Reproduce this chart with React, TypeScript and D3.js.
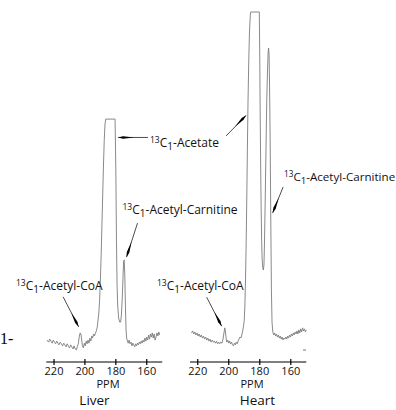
import React from "react";
import * as d3 from "d3";

// chemical shift ticks (ppm) shared by both spectra
const ppmTicks = [220, 200, 180, 160];

// [ppm, intensity (a.u.)]; the acetate peak is clipped flat
const liverSpectrum: [number, number][] = [
  [224.5, 3.5], [223.5, 2.9], [222.8, 3.8], [222, 3.2], [221.2, 2.6], [220.5, 3.5],
  [219.7, 2.9], [219, 2.4], [218.2, 3.2], [217.5, 2.6], [216.8, 2.1], [216, 2.9],
  [215.2, 2.4], [214.5, 1.8], [213.7, 2.6], [213, 2.1], [212.2, 1.5], [211.5, 2.4],
  [210.7, 1.8], [210, 1.2], [209.2, 2.1], [208.5, 1.5], [207.7, 0.9], [207, 1.8],
  [206.3, 0.9], [205.5, 0.6], [205, 1.5], [204.3, 2.4], [203.6, 4.7], [203.1, 5.6],
  [202.6, 5.3], [202.1, 3.5], [201.6, 1.8], [201, 1.2], [200.4, 2.6], [199.8, 1.8],
  [199.2, 3.2], [198.6, 2.4], [198, 3.5], [197.4, 2.6], [196.8, 4.1], [196.2, 3.2],
  [195.6, 4.7], [195, 4.1], [194.4, 5.3], [193.8, 4.7], [193.2, 5.6], [192.6, 6.2],
  [192, 7.4], [191.5, 9.4], [191, 11.5], [190.5, 15.3], [190, 21.2], [189.5, 28.5],
  [189, 37.4], [188.5, 46.2], [188, 55], [187.5, 62.4], [187, 67.1], [186.5, 68.5],
  [180.5, 68.5], [180, 53.5], [179.6, 32.9], [179.2, 19.7], [178.8, 13.8], [178.2, 10],
  [177.5, 8.8], [176.9, 8.8], [176.4, 10.9], [175.9, 15.3], [175.4, 21.2], [175, 26.5],
  [174.6, 27.1], [174.2, 22.6], [173.8, 13.8], [173.4, 6.5], [173, 4.1], [172.5, 3.2],
  [172, 2.6], [171.4, 3.5], [170.8, 2.4], [170.2, 2.9], [169.6, 1.8], [169, 2.6],
  [168.4, 2.1], [167.8, 1.5], [167.2, 2.4], [166.6, 1.8], [166, 2.6], [165.4, 2.1],
  [164.8, 2.9], [164.2, 2.4], [163.6, 3.2], [163, 2.6], [162.4, 3.5], [161.8, 2.9],
  [161.2, 4.1], [160.6, 3.2], [160, 4.4], [159.4, 3.5], [158.8, 5], [158.2, 3.8],
  [157.6, 5.3], [157, 4.4], [156.4, 5.6], [155.8, 4.1], [155.2, 5.3], [154.6, 3.5],
  [154, 4.4], [153.4, 5.6], [152.8, 4.7], [152.2, 5.9], [151.6, 5],
];

// [ppm, intensity (a.u.)]
const heartSpectrum: [number, number][] = [
  [224, 5.6], [223.3, 6.2], [222.6, 5.3], [221.9, 5.9], [221.2, 5], [220.5, 5.6],
  [219.8, 4.7], [219.1, 5.3], [218.4, 4.4], [217.7, 5], [217, 4.1], [216.3, 4.7],
  [215.6, 3.8], [214.9, 4.4], [214.2, 3.5], [213.5, 4.1], [212.8, 3.2], [212.1, 3.8],
  [211.4, 2.9], [210.7, 3.5], [210, 2.9], [209.3, 3.2], [208.6, 2.6], [207.9, 3.2],
  [207.2, 2.4], [206.5, 2.9], [205.8, 2.4], [205.1, 2.9], [204.4, 2.6], [203.7, 3.8],
  [203.1, 5.6], [202.6, 7.1], [202.2, 6.2], [201.7, 4.1], [201.2, 2.9], [200.6, 3.5],
  [200, 2.6], [199.4, 3.2], [198.8, 2.4], [198.2, 2.9], [197.6, 2.1], [197, 1.8],
  [196.4, 2.6], [195.8, 2.1], [195.2, 2.9], [194.6, 2.4], [194, 3.2], [193.4, 3.8],
  [192.8, 4.4], [192.2, 4.1], [191.6, 5], [191, 6.2], [190.5, 7.6], [190, 9.4],
  [189.6, 13.8], [189.2, 21.2], [188.8, 31.5], [188.4, 44.7], [188, 59.4], [187.6, 73.2],
  [187.1, 85.9], [186.6, 94.7], [186.1, 99.1], [185.8, 100], [180.3, 100], [180, 85.9],
  [179.7, 68.2], [179.4, 53.5], [179.1, 41.8], [178.8, 32.9], [178.5, 27.6], [178.1, 25],
  [177.7, 24.1], [177.3, 25.6], [177, 31.5], [176.5, 44.7], [176, 59.4], [175.5, 74.1],
  [175, 82.9], [174.6, 88.2], [174.3, 89.4], [174, 87.4], [173.7, 78.5], [173.3, 62.4],
  [172.9, 38.8], [172.5, 18.2], [172.1, 8.8], [171.6, 5.9], [171, 5], [170.4, 5.6],
  [169.8, 4.7], [169.2, 5.3], [168.6, 4.4], [168, 5], [167.4, 4.1], [166.8, 4.7],
  [166.2, 3.8], [165.6, 4.4], [165, 3.5], [164.4, 4.1], [163.8, 3.8], [163.2, 4.4],
  [162.6, 3.8], [162, 4.7], [161.4, 4.1], [160.8, 5], [160.2, 4.4], [159.6, 5.3],
  [159, 4.7], [158.4, 5.6], [157.8, 5], [157.2, 5.9], [156.6, 5.3], [156, 6.2],
  [155.4, 5.3], [154.8, 6.5], [154.2, 5.6], [153.6, 6.8], [153, 5.9], [152.4, 7.1],
  [151.8, 6.2], [151.2, 6.8], [150.6, 5.9], [150, 6.5],
];

// pointer tips in data space [ppm, intensity] and the tail offset in px
const liverPointers = [
  { tip: [178.6, 63.1], dx: 30, dy: 0 },
  { tip: [173.1, 27.9], dx: 11, dy: -34 },
  { tip: [204.1, 7.4], dx: -15.5, dy: -30 },
];
const heartPointers = [
  { tip: [188.8, 69.6], dx: -20, dy: 20.5 },
  { tip: [171.7, 40.9], dx: 10.5, dy: -26 },
  { tip: [204.6, 7.6], dx: -15, dy: -29 },
];

const FONT = "'Open Sans', sans-serif";
const AXIS_Y = 362;

const yScale = d3.scaleLinear().domain([0, 100]).range([352, 12]);

const Label = ({ x, y, name, size = 12 }: { x: number; y: number; name: string; size?: number }) => (
  <text x={x} y={y} fontFamily={FONT} fontSize={size} fill="#111">
    <tspan fontSize={size * 0.71} dy={-4.5}>13</tspan>
    <tspan dy={4.5}>C</tspan>
    <tspan fontSize={size * 0.83} dy={3}>1</tspan>
    <tspan dy={-3}>{"-" + name}</tspan>
  </text>
);

const Pointer = ({ tx, ty, dx, dy }: { tx: number; ty: number; dx: number; dy: number }) => {
  const len = Math.hypot(dx, dy);
  const ux = dx / len, uy = dy / len;
  const px = -uy, py = ux;
  const at = (d: number, w: number) => `${tx + ux * d + px * w},${ty + uy * d + py * w}`;
  return (
    <g>
      <line x1={tx} y1={ty} x2={tx + dx} y2={ty + dy} stroke="#000" strokeWidth={0.7} />
      <polygon points={[at(0, 0), at(5, 1.3), at(16, 0), at(5, -1.3)].join(" ")} fill="#000" />
    </g>
  );
};

const Panel = ({ data, range, pointers, name, ppmX, nameX }: any) => {
  const x = d3.scaleLinear().domain([225, 150]).range(range);
  const line = d3
    .line<[number, number]>()
    .x((d) => x(d[0]))
    .y((d) => yScale(d[1]));
  return (
    <g>
      <path d={line(data) || ""} fill="none" stroke="#7c7c7c" strokeWidth={0.9} />
      {pointers.map((p: any, i: number) => (
        <Pointer key={i} tx={x(p.tip[0])} ty={yScale(p.tip[1])} dx={p.dx} dy={p.dy} />
      ))}
      <line x1={range[0]} x2={range[1]} y1={AXIS_Y} y2={AXIS_Y} stroke="#000" strokeWidth={1.2} />
      {ppmTicks.map((t) => (
        <g key={t}>
          <line x1={x(t)} x2={x(t)} y1={AXIS_Y - 3} y2={AXIS_Y + 3} stroke="#000" strokeWidth={1.2} />
          <text x={x(t)} y={375} textAnchor="middle" fontFamily={FONT} fontSize={11} fill="#111">
            {t}
          </text>
        </g>
      ))}
      <text x={ppmX} y={388} textAnchor="middle" fontFamily={FONT} fontSize={11} fill="#111">
        PPM
      </text>
      <text x={nameX} y={405} textAnchor="middle" fontFamily={FONT} fontSize={13.5} fill="#111">
        {name}
      </text>
    </g>
  );
};

export default function App() {
  return (
    <svg
      width={396}
      height={410}
      style={{ position: "absolute", left: 0, top: 0, background: "#fff" }}
    >
      <rect width={396} height={410} fill="#fff" />
      <Panel data={liverSpectrum} range={[46.3, 162.2]} pointers={liverPointers} name="Liver" ppmX={108} nameX={94.5} />
      <Panel data={heartSpectrum} range={[190, 306.3]} pointers={heartPointers} name="Heart" ppmX={252} nameX={257.5} />
      <line x1={303} x2={306} y1={350} y2={350} stroke="#555" strokeWidth={0.8} />
      <Label x={150} y={147} name="Acetate" />
      <Label x={122.5} y={214} name="Acetyl-Carnitine" />
      <Label x={284} y={181} name="Acetyl-Carnitine" size={11.6} />
      <Label x={16} y={290} name="Acetyl-CoA" />
      <Label x={157} y={290} name="Acetyl-CoA" />
      <text x={0} y={344} fontFamily="'Liberation Serif', serif" fontSize={16} fill="#000">
        1-
      </text>
    </svg>
  );
}
